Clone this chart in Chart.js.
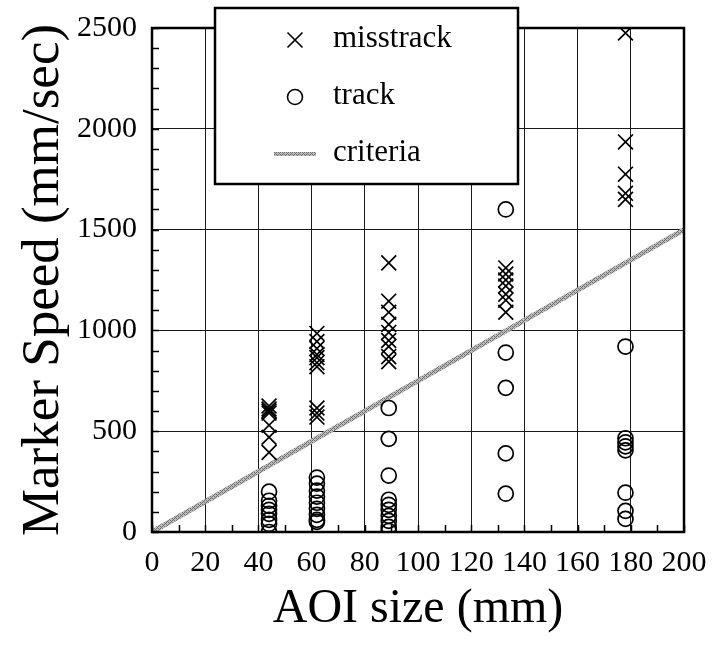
<!DOCTYPE html>
<html>
<head>
<meta charset="utf-8">
<script src="https://cdn.jsdelivr.net/npm/chart.js@4.4.1/dist/chart.umd.min.js"></script>
<style>
  html, body { margin: 0; padding: 0; background: #fff; }
  #chart { display: block; }
</style>
</head>
<body>
<canvas id="chart" width="716" height="646"></canvas>
<script>
// AOI sizes tested (mm), one column of measurements each
const aoiSizes = [44, 62, 89, 133, 178];

// marker speeds (mm/sec) where tracking was lost, per AOI size
const misstrackSpeeds = [
  [625, 610, 600, 590, 530, 470, 395],
  [985, 945, 910, 880, 865, 840, 820, 615, 590, 570],
  [1335, 1145, 1090, 1030, 990, 950, 920, 870, 845],
  [1310, 1280, 1250, 1220, 1180, 1150, 1090],
  [2475, 1935, 1775, 1680, 1650]
];

// marker speeds (mm/sec) that were tracked, per AOI size
const trackSpeeds = [
  [200, 155, 130, 110, 90, 60, 40, 0],
  [270, 240, 205, 175, 145, 115, 85, 60, 50],
  [615, 462, 280, 160, 135, 110, 80, 55, 25, 5],
  [1600, 890, 715, 390, 190],
  [920, 465, 445, 425, 405, 195, 105, 65]
];

// criteria line end points
const criteriaAoi = [0, 200];
const criteriaSpeed = [0, 1500];

const xMin = 0, xMax = 200, xStep = 20, xMinorStep = 10;
const yMin = 0, yMax = 2500, yStep = 500, yMinorStep = 100;

const legendLabels = ["misstrack", "track", "criteria"];

const toPoints = (groups) => {
  const pts = [];
  groups.forEach((speeds, i) => {
    speeds.forEach((s) => pts.push({ x: aoiSizes[i], y: s }));
  });
  return pts;
};

// speckled grey band for the criteria line
const makeCriteriaPattern = () => {
  const c = document.createElement("canvas");
  c.width = 4;
  c.height = 4;
  const g = c.getContext("2d");
  g.fillStyle = "#bdbdbd";
  g.fillRect(0, 0, 4, 4);
  g.fillStyle = "#6e6e6e";
  g.fillRect(0, 0, 1, 1);
  g.fillRect(2, 2, 1, 1);
  g.fillRect(1, 3, 1, 1);
  g.fillRect(3, 1, 1, 1);
  g.fillRect(2, 0, 1, 1);
  g.fillRect(0, 2, 1, 1);
  return g.createPattern(c, "repeat");
};

const SERIF = "'Liberation Serif', 'Times New Roman', serif";

const drawCross = (ctx, x, y, h) => {
  ctx.beginPath();
  ctx.moveTo(x - h, y - h);
  ctx.lineTo(x + h, y + h);
  ctx.moveTo(x + h, y - h);
  ctx.lineTo(x - h, y + h);
  ctx.stroke();
};

// keep the plot box fixed: no extra room reserved for overhanging labels
const fixBox = (size) => (s) => {
  if (s.isHorizontal()) s.height = size;
  else s.width = size;
  s.paddingTop = 0;
  s.paddingBottom = 0;
  s.paddingLeft = 0;
  s.paddingRight = 0;
};

// frame, inward minor ticks and the boxed legend
const framePlugin = {
  id: "frame",
  afterDatasetsDraw(chart) {
    const { ctx, chartArea: a, scales } = chart;
    ctx.save();
    ctx.strokeStyle = "#000";
    ctx.lineWidth = 1.5;
    ctx.beginPath();
    for (let v = yMin; v <= yMax; v += yMinorStep) {
      const py = Math.round(scales.y.getPixelForValue(v)) + 0.5;
      ctx.moveTo(a.left, py);
      ctx.lineTo(a.left + 7, py);
    }
    for (let v = xMin; v <= xMax; v += xMinorStep) {
      const px = Math.round(scales.x.getPixelForValue(v)) + 0.5;
      ctx.moveTo(px, a.bottom);
      ctx.lineTo(px, a.bottom - 7);
    }
    ctx.stroke();
    ctx.lineWidth = 2.5;
    ctx.strokeRect(a.left, a.top, a.right - a.left, a.bottom - a.top);
    ctx.restore();
  },
  afterDraw(chart) {
    const { ctx } = chart;
    const box = { x: 215, y: 8, w: 303, h: 176 };
    ctx.save();
    ctx.fillStyle = "#fff";
    ctx.fillRect(box.x, box.y, box.w, box.h);
    ctx.strokeStyle = "#000";
    ctx.lineWidth = 2.5;
    ctx.strokeRect(box.x, box.y, box.w, box.h);

    const symX = 295, textX = 333;
    const rows = [40, 97, 154];
    ctx.lineWidth = 1.6;
    drawCross(ctx, symX, rows[0], 7.5);
    ctx.beginPath();
    ctx.arc(symX, rows[1], 7.5, 0, Math.PI * 2);
    ctx.stroke();
    ctx.strokeStyle = makeCriteriaPattern();
    ctx.lineWidth = 4;
    ctx.beginPath();
    ctx.moveTo(274, rows[2]);
    ctx.lineTo(316, rows[2]);
    ctx.stroke();

    ctx.fillStyle = "#000";
    ctx.font = "31px " + SERIF;
    ctx.textBaseline = "middle";
    ctx.textAlign = "left";
    legendLabels.forEach((t, i) => ctx.fillText(t, textX, rows[i] - 1));
    ctx.restore();
  }
};

const ctx = document.getElementById("chart").getContext("2d");

new Chart(ctx, {
  type: "scatter",
  data: {
    datasets: [
      {
        label: legendLabels[0],
        data: toPoints(misstrackSpeeds),
        pointStyle: "crossRot",
        pointRadius: 10.5,
        pointBorderWidth: 1.7,
        borderColor: "#000",
        backgroundColor: "#000",
        order: 1
      },
      {
        label: legendLabels[1],
        data: toPoints(trackSpeeds),
        pointStyle: "circle",
        pointRadius: 7.5,
        pointBorderWidth: 1.7,
        borderColor: "#000",
        backgroundColor: "rgba(0,0,0,0)",
        order: 2
      },
      {
        label: legendLabels[2],
        type: "line",
        data: criteriaAoi.map((x, i) => ({ x, y: criteriaSpeed[i] })),
        borderColor: makeCriteriaPattern(),
        borderWidth: 5,
        pointRadius: 0,
        fill: false,
        order: 3
      }
    ]
  },
  options: {
    responsive: false,
    animation: false,
    events: [],
    layout: { padding: { top: 28, right: 32, left: 0, bottom: 0 } },
    plugins: {
      legend: { display: false },
      tooltip: { enabled: false }
    },
    scales: {
      x: {
        type: "linear",
        min: xMin,
        max: xMax,
        afterFit: fixBox(114),
        border: { display: false },
        grid: { color: "#1a1a1a", lineWidth: 1, drawTicks: false },
        ticks: {
          stepSize: xStep,
          padding: 13,
          color: "#000",
          maxRotation: 0,
          callback: (v) => String(v),
          font: { family: SERIF, size: 30 }
        },
        title: {
          display: true,
          text: "AOI size (mm)",
          color: "#000",
          padding: { top: 0, bottom: 8 },
          font: { family: SERIF, size: 48 }
        }
      },
      y: {
        type: "linear",
        min: yMin,
        max: yMax,
        afterFit: fixBox(152),
        border: { display: false },
        grid: { color: "#1a1a1a", lineWidth: 1, drawTicks: false },
        ticks: {
          stepSize: yStep,
          padding: 15,
          color: "#000",
          callback: (v) => String(v),
          font: { family: SERIF, size: 30 }
        },
        title: {
          display: true,
          text: "Marker Speed (mm/sec)",
          color: "#000",
          padding: { top: 12, bottom: 0 },
          font: { family: SERIF, size: 53 }
        }
      }
    }
  },
  plugins: [framePlugin]
});
</script>
</body>
</html>
